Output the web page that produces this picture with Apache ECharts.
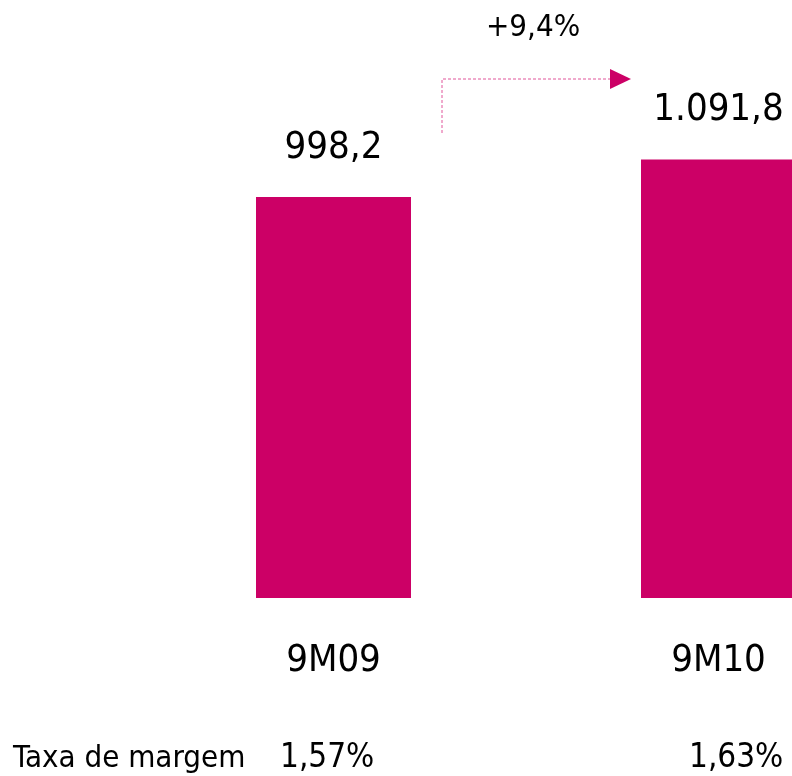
<!DOCTYPE html>
<html>
<head>
<meta charset="utf-8">
<script src="https://cdn.jsdelivr.net/npm/echarts@6/dist/echarts.min.js"></script>
<style>
  html, body { margin: 0; padding: 0; background: #fff; width: 792px; height: 776px; overflow: hidden; }
  /* a segunda barra é cortada pela margem direita: o gráfico é mais largo que a janela */
  #chart { width: 911px; height: 776px; }
</style>
</head>
<body>
<div id="chart"></div>
<script>
// dados
const periodos = ["9M09", "9M10"];
const valores = [998.2, 1091.8];
const rotulos = ["998,2", "1.091,8"];
const taxaMargem = ["1,57%", "1,63%"];
const variacao = "+9,4%";

const rosa = "#CC0066";
const fonte = "'DejaVu Sans Condensed', 'DejaVu Sans', sans-serif";

let mychart = echarts.init(document.getElementById("chart"));
let option = {
  animation: false,
  backgroundColor: "#fff",
  grid: {
    left: 141,
    top: 116,
    right: 0,
    bottom: 178,
  },
  xAxis: {
    type: "category",
    data: periodos,
    axisLine: { show: false },
    axisTick: { show: false },
    axisLabel: {
      margin: 44,
      color: "#000",
      fontSize: 38,
      fontFamily: fonte,
    },
  },
  yAxis: {
    type: "value",
    min: 0,
    max: 1200,
    show: false,
    splitLine: { show: false },
  },
  series: [
    {
      type: "bar",
      data: valores,
      barWidth: 155,
      itemStyle: { color: rosa },
      label: {
        show: true,
        position: "top",
        distance: 30,
        color: "#000",
        fontSize: 38,
        fontFamily: fonte,
        formatter: (p) => rotulos[p.dataIndex],
      },
    },
  ],
  graphic: [
    {
      type: "text",
      left: 486,
      top: 12,
      style: { text: variacao, fontSize: 31, fontFamily: fonte, fill: "#000" },
    },
    {
      type: "polyline",
      shape: { points: [[442, 133], [442, 79], [612, 79]] },
      style: { stroke: "#E0559A", lineWidth: 1, lineDash: [3, 2], fill: null },
    },
    {
      type: "polygon",
      shape: { points: [[610, 69], [631, 79], [610, 89]] },
      style: { fill: rosa },
    },
    {
      type: "text",
      left: 13,
      top: 743,
      style: { text: "Taxa de margem", fontSize: 31, fontFamily: fonte, fill: "#000" },
    },
    {
      type: "text",
      left: 280,
      top: 742,
      style: { text: taxaMargem[0], fontSize: 33, fontFamily: fonte, fill: "#000" },
    },
    {
      type: "text",
      left: 689,
      top: 742,
      style: { text: taxaMargem[1], fontSize: 33, fontFamily: fonte, fill: "#000" },
    },
  ],
};
mychart.setOption(option);
</script>
</body>
</html>
